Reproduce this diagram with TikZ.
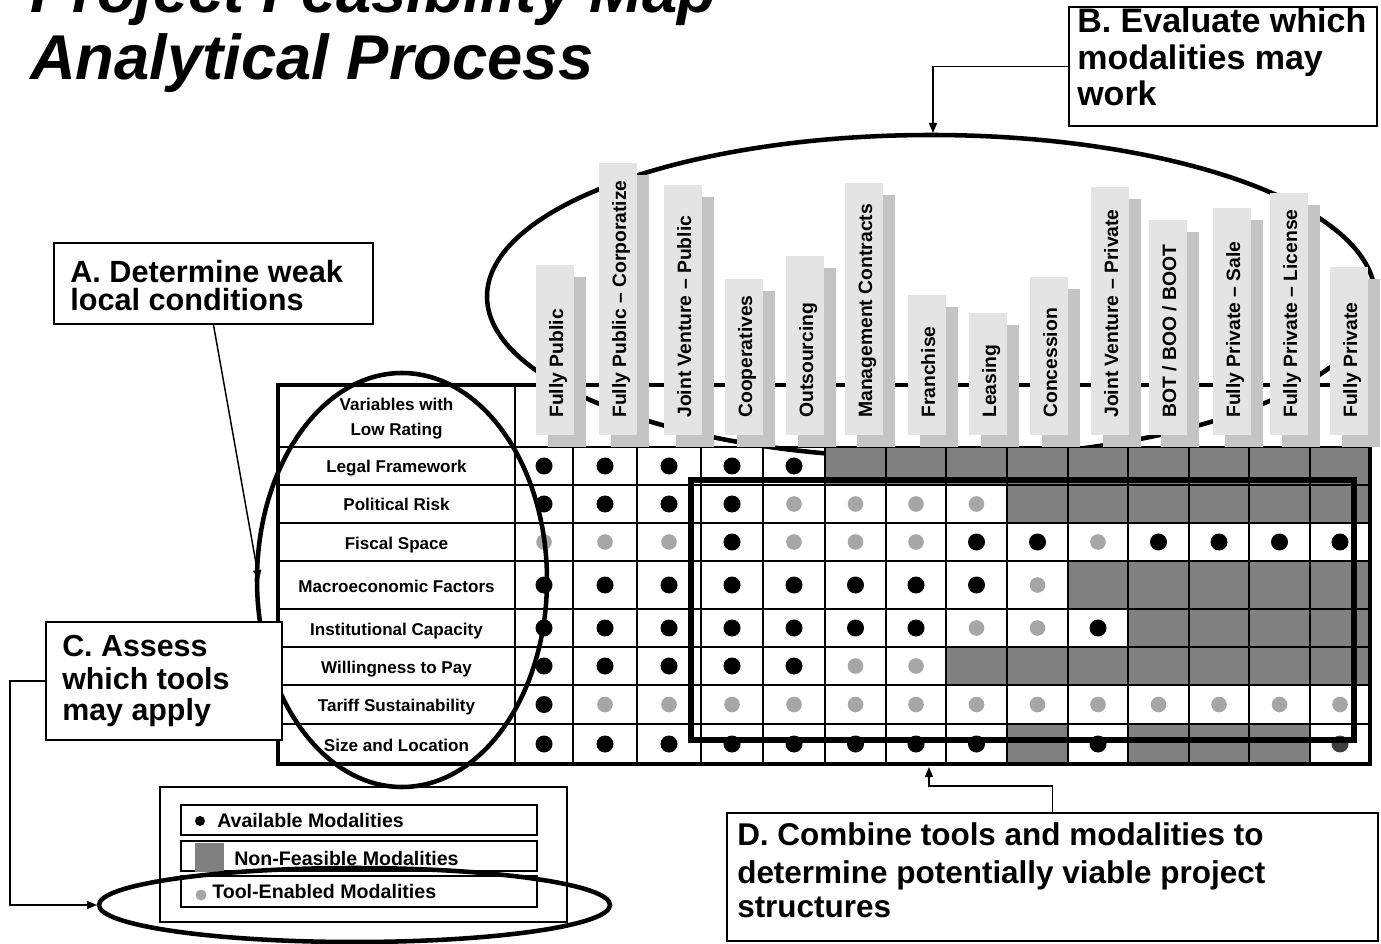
\documentclass[tikz,border=0pt]{standalone}
\usepackage{fontspec}
\setmainfont{Liberation Sans}
\usetikzlibrary{arrows.meta,fit}
\definecolor{cellgray}{HTML}{808080}
\definecolor{dotgray}{HTML}{A6A6A6}
\definecolor{lblfront}{HTML}{E4E4E4}
\definecolor{lblshadow}{HTML}{C4C4C4}
\definecolor{darkdot}{HTML}{404040}
\begin{document}
\begin{tikzpicture}[x=0.75pt,y=-0.75pt,
  gridline/.style={line width=1.1pt},
  boxframe/.style={draw, line width=1.5pt, fill=white, inner sep=0pt},
  connector/.style={line width=1.1pt, -{Triangle[length=7.5pt,width=6pt]}},
  ring/.style={line width=3.4pt},
  lbl/.style={rotate=90, anchor=base west, inner sep=0pt, font=\fontsize{14.5}{16}\selectfont\bfseries},
  rowlbl/.style={anchor=base, inner sep=0pt, font=\fontsize{12.8}{14}\selectfont\bfseries},
  boxtext/.style={anchor=base west, inner sep=0pt},
  legtext/.style={anchor=base west, inner sep=0pt, font=\fontsize{14.7}{16}\selectfont\bfseries},
  legrow/.style={draw, line width=1.1pt, inner sep=0pt},
]
\useasboundingbox (0,0) rectangle (1381,944);
\clip (0,0) rectangle (1381,944);

% title
\node[boxtext, font=\fontsize{47.5}{50}\selectfont\bfseries\itshape] (title1) at (30,13) {Project Feasibility Map};
\node[boxtext, font=\fontsize{47.5}{50}\selectfont\bfseries\itshape] (title2) at (30,80) {Analytical Process};

% ellipse B (behind cells and labels)
\draw[ring] (931,296.5) ellipse [x radius=444, y radius=161.5];

% cells
\def\colx{{515,573,637,701,763,825,886,946,1007,1068,1128,1189,1249,1310,1370}}
\def\rowy{{447,485,523,561,609,647,685,724,764}}
\def\cX{X}\def\cB{B}\def\cG{G}\def\cD{D}
\foreach \rw [count=\r from 0] in {
  {B,B,B,B,B,X,X,X,X,X,X,X,X,X},
  {B,B,B,B,G,G,G,G,X,X,X,X,X,X},
  {G,G,G,B,G,G,G,B,B,G,B,B,B,B},
  {B,B,B,B,B,B,B,B,G,X,X,X,X,X},
  {B,B,B,B,B,B,B,G,G,B,X,X,X,X},
  {B,B,B,B,B,G,G,X,X,X,X,X,X,X},
  {B,G,G,G,G,G,G,G,G,G,G,G,G,G},
  {B,B,B,B,B,B,B,B,X,B,X,X,X,D}}{
  \foreach \v [count=\c from 0] in \rw {
    \pgfmathsetmacro\xa{\colx[\c]}
    \pgfmathsetmacro\xb{\colx[\c+1]}
    \pgfmathsetmacro\ya{\rowy[\r]}
    \pgfmathsetmacro\yb{\rowy[\r+1]}
    \pgfmathsetmacro\xm{(\xa+\xb)/2}
    \pgfmathsetmacro\ym{(\ya+\yb)/2}
    \ifx\v\cX \fill[cellgray] (\xa,\ya) rectangle (\xb,\yb); \fi
    \ifx\v\cB \fill[black] (\xm,\ym) circle [radius=8.5]; \fi
    \ifx\v\cG \fill[dotgray] (\xm,\ym) circle [radius=7.8]; \fi
    \ifx\v\cD \fill[darkdot] (\xm,\ym) circle [radius=8.5]; \fi
  }
}

% grid
\foreach \y in {447,485,523,561,609,647,685,724} \draw[gridline] (278,\y) -- (1370,\y);
\foreach \x in {573,637,701,763,825,886,946,1007,1068,1128,1189,1249,1310} \draw[gridline] (\x,447) -- (\x,764);
\draw[gridline] (515,385) -- (515,764);
\draw[line width=3pt] (278,385) rectangle (1370,764);

% modality labels
\foreach \nm/\xl/\tp [count=\i] in {
  {Fully Public}/536/265,
  {Fully Public -- Corporatize}/599/163,
  {Joint Venture -- Public}/664/185,
  {Cooperatives}/725/279,
  {Outsourcing}/786/256,
  {Management Contracts}/845/183,
  {Franchise}/908/295,
  {Leasing}/969/313,
  {Concession}/1030/277,
  {Joint Venture -- Private}/1091/187,
  {BOT / BOO / BOOT}/1149/220,
  {Fully Private -- Sale}/1213/208,
  {Fully Private -- License}/1270/193,
  {Fully Private}/1330/267}{
  \fill[lblshadow] (\xl+12,\tp+12) rectangle (\xl+50,447);
  \fill[lblfront] (\xl,\tp) rectangle (\xl+38,435);
  \node[lbl] (mod\i) at (\xl+27,418) {\nm};
}

% row labels
\node[rowlbl] (hdr1) at (396.5,411) {Variables with};
\node[rowlbl] (hdr2) at (396.5,436) {Low Rating};
\foreach \t/\yy [count=\i] in {Legal Framework/473, Political Risk/511, Fiscal Space/549,
  Macroeconomic Factors/592, Institutional Capacity/635, Willingness to Pay/673,
  Tariff Sustainability/711, Size and Location/751}{
  \node[rowlbl] (var\i) at (396.5,\yy) {\t};
}

% ellipse A
\draw[ring] (402,580) ellipse [x radius=145, y radius=207];
% rectangle D
\draw[line width=4pt] (691,480) rectangle (1354,740);

% Box A
\node[boxframe, fit={(54,243) (373,324)}] (boxA) {};
\node[boxtext, font=\fontsize{23}{26}\selectfont\bfseries] (tA1) at (70,283) {A. Determine weak};
\node[boxtext, font=\fontsize{23}{26}\selectfont\bfseries] (tA2) at (70,311) {local conditions};
\coordinate (Aend) at (259,580);
\draw[connector] (boxA.south) -- (Aend);

% Box B
\node[boxframe, fit={(1069,7) (1377,126)}] (boxB) {};
\node[boxtext, font=\fontsize{25.5}{28}\selectfont\bfseries] (tB1) at (1077,33) {B. Evaluate which};
\node[boxtext, font=\fontsize{25.5}{28}\selectfont\bfseries] (tB2) at (1077,70) {modalities may};
\node[boxtext, font=\fontsize{25.5}{28}\selectfont\bfseries] (tB3) at (1077,106) {work};
\coordinate (Bend) at (933,133);
\draw[connector] (boxB.west) -| (Bend);

% Box C
\node[boxframe, fit={(46,622) (282,740)}] (boxC) {};
\node[boxtext, font=\fontsize{22.8}{26}\selectfont\bfseries] (tC1) at (62,656) {C. Assess};
\node[boxtext, font=\fontsize{22.8}{26}\selectfont\bfseries] (tC2) at (62,689) {which tools};
\node[boxtext, font=\fontsize{22.8}{26}\selectfont\bfseries] (tC3) at (62,720) {may apply};

% Legend
\node[draw, line width=1.1pt, inner sep=0pt, fit={(160,787) (567,922)}] (legend) {};
\node[legrow, fit={(181,805) (537,835)}] (leg1) {};
\node[legrow, fit={(181,841) (537,871)}] (leg2) {};
\node[legrow, fit={(181,876) (537,907)}] (leg3) {};
\fill[black] (200,821) circle [radius=5];
\fill[cellgray] (195,843) rectangle (224,872);
\fill[dotgray] (201,895) circle [radius=5.5];
\node[legtext] (lt1) at (217,827) {Available Modalities};
\node[legtext] (lt2) at (234,865) {Non-Feasible Modalities};
\node[legtext] (lt3) at (212,898) {Tool-Enabled Modalities};
\draw[ring] (354.5,905) ellipse [x radius=255.5, y radius=37];
\coordinate (Cend) at (97,905);
\draw[connector] (boxC.west) -- ++(-35,0) |- (Cend);

% Box D
\node[boxframe, fit={(727,813) (1378,941)}] (boxD) {};
\node[boxtext, font=\fontsize{23.6}{26}\selectfont\bfseries] (tD1) at (737,845) {D. Combine tools and modalities to};
\node[boxtext, font=\fontsize{23.6}{26}\selectfont\bfseries] (tD2) at (737,883) {determine potentially viable project};
\node[boxtext, font=\fontsize{23.6}{26}\selectfont\bfseries] (tD3) at (737,917) {structures};
\coordinate (Dend) at (929,767);
\draw[connector] (boxD.north) -- ++(0,-26) -| (Dend);
\end{tikzpicture}
\end{document}
